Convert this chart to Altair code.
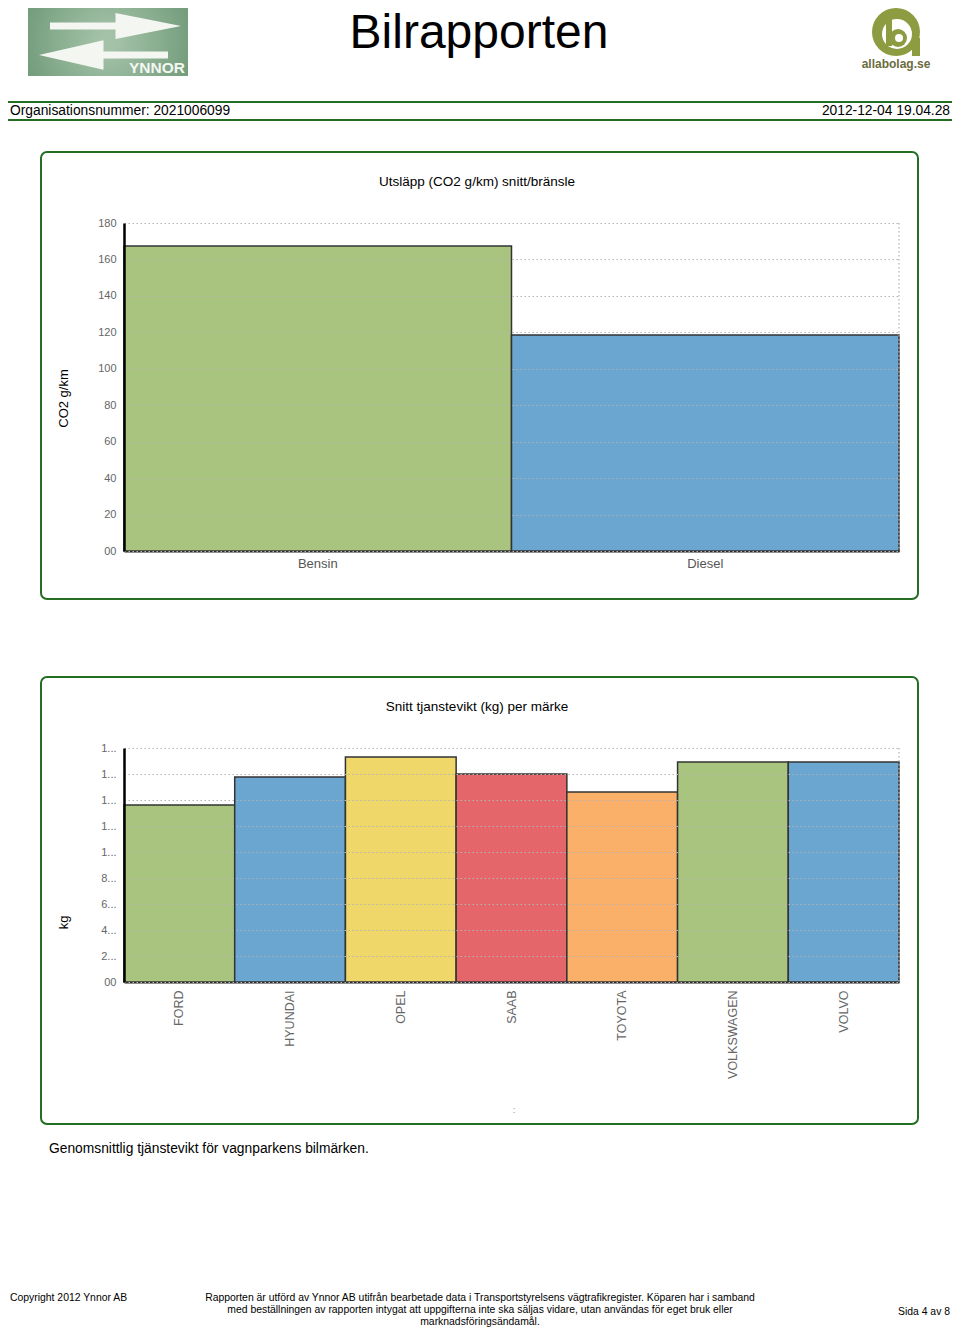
import altair as alt
import pandas as pd

FONT = "Liberation Sans"

# ---- data ----
fuel_types = ["Bensin", "Diesel"]
co2_values = [167.4, 118.5]
fuel_colors = ["#a9c47f", "#6aa6d0"]
co2_ticks = [0, 20, 40, 60, 80, 100, 120, 140, 160, 180]

brands = ["FORD", "HYUNDAI", "OPEL", "SAAB", "TOYOTA", "VOLKSWAGEN", "VOLVO"]
weights = [1361, 1577, 1731, 1600, 1462, 1692, 1692]
brand_colors = ["#a9c47f", "#6aa6d0", "#efd76a", "#e5666a", "#fbb06a", "#a9c47f", "#6aa6d0"]
weight_ticks = [0, 200, 400, 600, 800, 1000, 1200, 1400, 1600, 1800]

page_title = "Bilrapporten"
org_text = "Organisationsnummer: 2021006099"
date_text = "2012-12-04 19.04.28"
chart1_title = "Utsläpp (CO2 g/km) snitt/bränsle"
chart1_ytitle = "CO2 g/km"
chart2_title = "Snitt tjanstevikt (kg) per märke"
chart2_ytitle = "kg"
caption = "Genomsnittlig tjänstevikt för vagnparkens bilmärken."
copyright_text = "Copyright 2012 Ynnor AB"
footer_lines = [
    "Rapporten är utförd av Ynnor AB utifrån bearbetade data i Transportstyrelsens vägtrafikregister. Köparen har i samband",
    "med beställningen av rapporten intygat att uppgifterna inte ska säljas vidare, utan användas för eget bruk eller",
    "marknadsföringsändamål.",
]
page_text = "Sida 4 av 8"

W = 775
one = pd.DataFrame({"k": [0]})
GREEN = "#236e23"


def txt(text, x, y, size, align="left", color="#000", weight="normal", baseline="middle", angle=0):
    return alt.Chart(one).mark_text(
        text=text, fontSize=size, align=align, baseline=baseline, color=color,
        fontWeight=weight, font=FONT, angle=angle
    ).encode(x=alt.value(x), y=alt.value(y))


def rect(x, x2, y, y2, **kw):
    return alt.Chart(one).mark_rect(**kw).encode(
        x=alt.value(x), x2=alt.value(x2), y=alt.value(y), y2=alt.value(y2))


def sym(x, y, size, color, shape="circle"):
    return alt.Chart(one).mark_point(
        shape=shape, size=size, filled=True, fill=color, opacity=1, strokeWidth=0
    ).encode(x=alt.value(x), y=alt.value(y))


# ---- header panel (plot origin at page (124, 8)) ----
logo_grad = alt.Gradient(
    gradient="radial", x1=0.5, y1=0.5, r1=0.05, x2=0.5, y2=0.5, r2=0.75,
    stops=[alt.GradientStop(color="#a4c2a8", offset=0),
           alt.GradientStop(color="#5d8c68", offset=1)])
arrow_right = "M-1,-0.055 L0.0,-0.055 L0.0,-0.2 L1,0 L0.0,0.2 L0.0,0.055 L-1,0.055 Z"
arrow_left = "M1,-0.055 L0.0,-0.055 L0.0,-0.23 L-1,0 L0.0,0.23 L0.0,0.055 L1,0.055 Z"

header_layers = [
    rect(-96, 64, 0, 68, fill=logo_grad),
    sym(-8.5, 18, 131 * 131, "#f4f6f2", shape=arrow_right),
    sym(-20.5, 47, 129 * 129, "#f4f6f2", shape=arrow_left),
    txt("YNNOR", 33, 60, 15.5, align="center", color="#f4f6f2", weight="bold"),
    # allabolag logo
    sym(772, 24, 48 * 48, "#8d9c40"),
    rect(788, 796, 30, 48, fill="#8d9c40"),
    sym(773, 26, 30 * 30, "#ffffff"),
    rect(762, 768, 4, 38, fill="#8d9c40"),
    sym(774, 30, 18 * 18, "#8d9c40"),
    sym(775, 30, 8 * 8, "#ffffff"),
    txt("allabolag.se", 772, 56, 12, align="center", color="#6b6b3e", weight="bold"),
    txt(page_title, 355, 40, 48, align="center", baseline="alphabetic"),
    rect(-116, 828, 93, 95, fill=GREEN),
    rect(-116, 828, 111, 113, fill=GREEN),
    txt(org_text, -114, 103, 13.8),
    txt(date_text, 826, 103, 13.8, align="right"),
]
header = alt.layer(*header_layers).properties(width=W, height=215)

# ---- chart 1 ----
df1 = pd.DataFrame({"fuel": fuel_types, "co2": co2_values, "color": fuel_colors})
grid_kw = dict(grid=True, gridDash=[1.5, 2.5], gridColor="#b4b4b4", gridWidth=1.2)

bars1 = alt.Chart(df1).mark_bar(stroke="#333333", strokeWidth=1.5).encode(
    x=alt.X("fuel:N", sort=fuel_types,
            scale=alt.Scale(paddingInner=0, paddingOuter=0),
            axis=alt.Axis(title=None, labelAngle=0, labelColor="#555555", labelFontSize=13,
                          labelPadding=6, ticks=False, domainColor="#222222", domainWidth=2,
                          grid=False, labelFont=FONT)),
    y=alt.Y("co2:Q", scale=alt.Scale(domain=[0, 180], nice=False),
            axis=alt.Axis(values=co2_ticks,
                          labelExpr="datum.value == 0 ? '00' : datum.label",
                          title=chart1_ytitle, titleX=-61, titleY=175, titleAngle=-90,
                          titleAlign="center", titleBaseline="middle",
                          titleFontSize=13, titleFontWeight="normal", titleFont=FONT,
                          ticks=False, labelPadding=8, domainColor="#000000", domainWidth=2.5,
                          labelColor="#666666", labelFontSize=11, labelFont=FONT,
                          zindex=1, **grid_kw)),
    color=alt.Color("color:N", scale=None),
)
frame1 = rect(-83, 794, -71, 376, fill="#ffffff", fillOpacity=0, stroke=GREEN,
              strokeWidth=2, cornerRadius=6)
edge1 = alt.Chart(one).mark_rule(color="#b4b4b4", strokeDash=[1.5, 2.5], strokeWidth=1.2).encode(
    x=alt.value(W), y=alt.value(0), y2=alt.value(328))
title1 = txt(chart1_title, 353, -41, 13.5, align="center")
chart1 = alt.layer(frame1, bars1, edge1, title1).properties(width=W, height=328)

# ---- spacer ----
spacer = alt.Chart(one).mark_text(text="").encode(
    x=alt.value(0), y=alt.value(0)).properties(width=W, height=197)

# ---- chart 2 ----
df2 = pd.DataFrame({"brand": brands, "weight": weights, "color": brand_colors})
bars2 = alt.Chart(df2).mark_bar(stroke="#333333", strokeWidth=1.5).encode(
    x=alt.X("brand:N", sort=brands,
            scale=alt.Scale(paddingInner=0, paddingOuter=0),
            axis=alt.Axis(title=None, labelAngle=-90, labelAlign="right", labelBaseline="middle",
                          labelColor="#666666", labelFontSize=12.5, labelPadding=8, ticks=False,
                          domainColor="#222222", domainWidth=2, grid=False, labelFont=FONT)),
    y=alt.Y("weight:Q", scale=alt.Scale(domain=[0, 1800], nice=False),
            axis=alt.Axis(values=weight_ticks,
                          labelExpr="datum.value == 0 ? '00' : substring(toString(datum.value), 0, 1) + '...'",
                          title=chart2_ytitle, titleX=-61, titleY=174, titleAngle=-90,
                          titleAlign="center", titleBaseline="middle",
                          titleFontSize=13, titleFontWeight="normal", titleFont=FONT,
                          ticks=False, labelPadding=8, domainColor="#000000", domainWidth=2.5,
                          labelColor="#666666", labelFontSize=11, labelFont=FONT,
                          zindex=1, **grid_kw)),
    color=alt.Color("color:N", scale=None),
)
frame2 = rect(-83, 794, -71, 376, fill="#ffffff", fillOpacity=0, stroke=GREEN,
              strokeWidth=2, cornerRadius=6)
edge2 = alt.Chart(one).mark_rule(color="#b4b4b4", strokeDash=[1.5, 2.5], strokeWidth=1.2).encode(
    x=alt.value(W), y=alt.value(0), y2=alt.value(234))
title2 = txt(chart2_title, 353, -41, 13.5, align="center")
colon = txt(":", 390, 362, 9, align="center", color="#888888")
chart2 = alt.layer(frame2, bars2, edge2, title2, colon).properties(width=W, height=234)

# ---- footer panel (plot origin at page (124, 982)) ----
footer_layers = [
    txt(caption, -75, 167, 13.8),
    txt(copyright_text, -114, 316, 10.4),
    txt(page_text, 826, 330, 10.4, align="right"),
]
for i, line in enumerate(footer_lines):
    footer_layers.append(txt(line, 356, 316 + 12 * i, 10.4, align="center"))
footer = alt.layer(*footer_layers).properties(width=W, height=320)

chart = alt.vconcat(header, chart1, spacer, chart2, footer, spacing=0, bounds="flush").properties(
    padding=0
).configure(font=FONT).configure_view(stroke=None)

chart.save("out.html", embed_options={"renderer": "svg", "actions": False})
